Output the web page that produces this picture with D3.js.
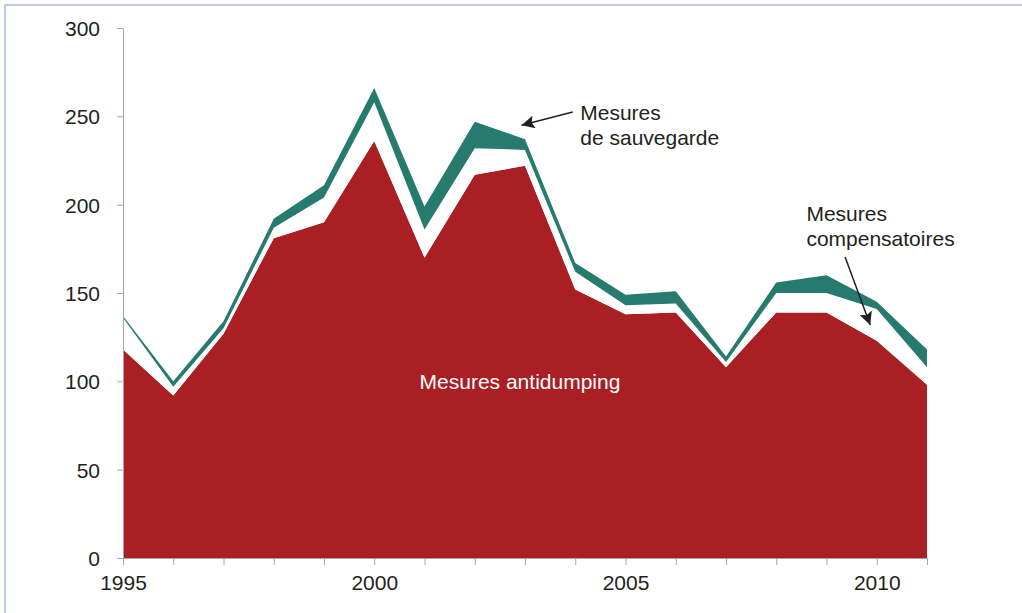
<!DOCTYPE html>
<html>
<head>
<meta charset="utf-8">
<script src="https://cdn.jsdelivr.net/npm/d3@7"></script>
<style>
  body { margin: 0; background: #fff; }
  svg { display: block; font-family: "Liberation Sans", Arial, sans-serif; }
  .axis text { font-size: 21px; fill: #231f20; }
  .axis path, .axis line { stroke: #a6a6a6; }
  .note { font-size: 21px; fill: #231f20; }
</style>
</head>
<body>
<div id="chart"></div>
<script>
var years = [1995, 1996, 1997, 1998, 1999, 2000, 2001, 2002, 2003, 2004, 2005, 2006, 2007, 2008, 2009, 2010, 2011];
// mesures antidumping
var antidumping = [118, 92, 127, 181, 190, 236, 170, 217, 222, 152, 138, 139, 108, 139, 139, 123, 98];
// mesures compensatoires
var compensatoires = [18, 5, 3, 6, 14, 22, 16, 15, 9, 10, 5, 5, 3, 11, 11, 18, 10];
// mesures de sauvegarde
var sauvegarde = [1, 3, 4, 5, 7, 8, 13, 15, 6, 5, 6, 7, 3, 6, 10, 4, 10];
var yTicks = [0, 50, 100, 150, 200, 250, 300];
var xLabels = [1995, 2000, 2005, 2010];

var width = 1022, height = 613;
var colors = { antidumping: "#a91f24", compensatoires: "#ffffff", sauvegarde: "#267a6e" };

var rows = years.map(function(y, i) {
    return { year: y, antidumping: antidumping[i], compensatoires: compensatoires[i], sauvegarde: sauvegarde[i] };
});

var svg = d3.select("#chart").append("svg")
    .attr("width", width)
    .attr("height", height);

// light frame
svg.append("rect")
    .attr("x", 5).attr("y", 5)
    .attr("width", width + 20).attr("height", height + 20)
    .attr("fill", "none")
    .attr("stroke", "#a9b6e3")
    .attr("stroke-width", 1.5);

var x = d3.scaleLinear().domain([1995, 2011]).range([123, 927]);
var y = d3.scaleLinear().domain([0, 300]).range([558, 28]);

var stack = d3.stack().keys(["antidumping", "compensatoires", "sauvegarde"]);
var series = stack(rows);

var area = d3.area()
    .x(function(d) { return x(d.data.year); })
    .y0(function(d) { return y(d[0]); })
    .y1(function(d) { return y(d[1]); });

svg.append("g").selectAll("path")
    .data(series)
    .enter().append("path")
    .attr("d", area)
    .attr("fill", function(d) { return colors[d.key]; });

// axes
svg.append("g")
    .attr("class", "axis")
    .attr("transform", "translate(" + x(1995) + ",0)")
    .call(d3.axisLeft(y).tickValues(yTicks).tickSize(6).tickSizeOuter(0).tickPadding(17))
    .call(function(g) { g.selectAll("text").attr("dy", "0.35em"); });

svg.append("g")
    .attr("class", "axis")
    .attr("transform", "translate(0," + y(0) + ")")
    .call(d3.axisBottom(x).tickValues(years).tickSize(7).tickSizeOuter(0).tickPadding(10)
        .tickFormat(function(d) { return xLabels.indexOf(d) >= 0 ? d : ""; }));

// labels
svg.append("text")
    .attr("class", "note")
    .attr("x", x(2002.9)).attr("y", y(100) + 8)
    .attr("text-anchor", "middle")
    .style("fill", "#fff")
    .text("Mesures antidumping");

svg.append("defs").append("marker")
    .attr("id", "arrow")
    .attr("viewBox", "0 0 10 10")
    .attr("refX", 10).attr("refY", 5)
    .attr("markerWidth", 17).attr("markerHeight", 13)
    .attr("markerUnits", "userSpaceOnUse")
    .attr("orient", "auto")
    .append("path")
    .attr("d", "M0,0L10,5L0,10L2,5Z")
    .attr("fill", "#231f20");

svg.append("line")
    .attr("x1", x(2003.95)).attr("y1", y(252.4))
    .attr("x2", x(2002.93)).attr("y2", y(245))
    .attr("stroke", "#231f20").attr("stroke-width", 1.5)
    .attr("marker-end", "url(#arrow)");

var sv = svg.append("text").attr("class", "note")
    .attr("x", x(2004.1)).attr("y", y(247.9));
sv.append("tspan").text("Mesures");
sv.append("tspan").attr("x", x(2004.1)).attr("dy", 25).text("de sauvegarde");

svg.append("line")
    .attr("x1", x(2009.37)).attr("y1", y(170.4))
    .attr("x2", x(2009.87)).attr("y2", y(131.9))
    .attr("stroke", "#231f20").attr("stroke-width", 1.5)
    .attr("marker-end", "url(#arrow)");

var cp = svg.append("text").attr("class", "note")
    .attr("x", x(2008.6)).attr("y", y(190.9));
cp.append("tspan").text("Mesures");
cp.append("tspan").attr("x", x(2008.6)).attr("dy", 25.5).text("compensatoires");
</script>
</body>
</html>
